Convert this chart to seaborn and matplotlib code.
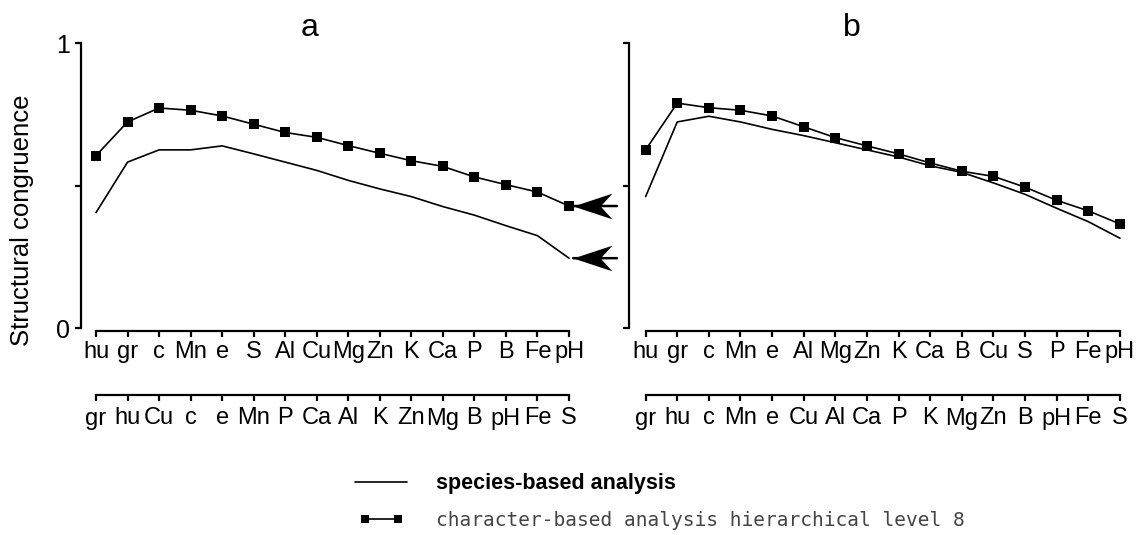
import numpy as np
import pandas as pd
import matplotlib
matplotlib.use("Agg")
import matplotlib.pyplot as plt
import seaborn as sns
from matplotlib import font_manager
from matplotlib.path import Path
from matplotlib.legend_handler import HandlerLine2D

# ---------------- data ----------------
a_top_labels = ["hu", "gr", "c", "Mn", "e", "S", "Al", "Cu", "Mg", "Zn", "K", "Ca", "P", "B", "Fe", "pH"]
a_bot_labels = ["gr", "hu", "Cu", "c", "e", "Mn", "P", "Ca", "Al", "K", "Zn", "Mg", "B", "pH", "Fe", "S"]
b_top_labels = ["hu", "gr", "c", "Mn", "e", "Al", "Mg", "Zn", "K", "Ca", "B", "Cu", "S", "P", "Fe", "pH"]
b_bot_labels = ["gr", "hu", "c", "Mn", "e", "Cu", "Al", "Ca", "P", "K", "Mg", "Zn", "B", "pH", "Fe", "S"]

a_character = [0.605, 0.723, 0.772, 0.764, 0.744, 0.715, 0.686, 0.669, 0.640, 0.613,
               0.587, 0.567, 0.530, 0.503, 0.477, 0.428]
a_species = [0.405, 0.582, 0.625, 0.625, 0.639, 0.611, 0.582, 0.553, 0.518, 0.488,
             0.461, 0.426, 0.396, 0.359, 0.324, 0.245]
b_character = [0.625, 0.789, 0.773, 0.764, 0.744, 0.706, 0.668, 0.639, 0.611, 0.579,
               0.550, 0.532, 0.494, 0.448, 0.411, 0.365]
b_species = [0.461, 0.723, 0.743, 0.723, 0.697, 0.675, 0.650, 0.625, 0.600, 0.569,
             0.546, 0.509, 0.469, 0.420, 0.373, 0.315]

y_ticks = [0, 0.5, 1]
y_ticklabels = ["0", "", "1"]
panel_titles = ["a", "b"]
series_names = ["species-based analysis", "character-based analysis hierarchical level 8"]

# ---------------- style ----------------
sns.set_theme(style="white")
names = {f.name for f in font_manager.fontManager.ttflist}
narrow = "Liberation Sans Narrow" if "Liberation Sans Narrow" in names else "Liberation Sans"
plt.rcParams["font.family"] = ["Liberation Sans", "DejaVu Sans"]
plt.rcParams["text.color"] = "black"
plt.rcParams["xtick.color"] = "black"
plt.rcParams["ytick.color"] = "black"
plt.rcParams["axes.labelcolor"] = "black"

W, H = 1148, 535
fig = plt.figure(figsize=(W / 100, H / 100), dpi=100)


def px_axes(left, right, bottom_px, top_px):
    return fig.add_axes([left / W, (H - bottom_px) / H, (right - left) / W, (bottom_px - top_px) / H])


ax_a = px_axes(81, 575, 328, 43)
ax_b = px_axes(629, 1126, 328, 43)

panels = [
    (ax_a, a_top_labels, a_bot_labels, a_species, a_character, (-0.476, 15.19)),
    (ax_b, b_top_labels, b_bot_labels, b_species, b_character, (-0.525, 15.19)),
]

lw = 1.2
for i, (ax, top_lab, bot_lab, sp, ch, xl) in enumerate(panels):
    x = np.arange(len(top_lab))
    df = pd.DataFrame({"pos": np.concatenate([x, x]),
                       "value": sp + ch,
                       "series": [series_names[0]] * len(x) + [series_names[1]] * len(x)})
    sns.lineplot(data=df[df.series == series_names[0]], x="pos", y="value", ax=ax,
                 color="black", lw=lw, legend=False)
    sns.lineplot(data=df[df.series == series_names[1]], x="pos", y="value", ax=ax,
                 color="black", lw=lw, marker="s", markersize=7.5, markeredgewidth=0,
                 legend=False)
    ax.set_xlim(*xl)
    ax.set_ylim(0, 1)
    ax.set_xlabel("")
    ax.set_ylabel("")
    for s in ["top", "right"]:
        ax.spines[s].set_visible(False)
    for s in ["left", "bottom"]:
        ax.spines[s].set_linewidth(1.6)
        ax.spines[s].set_color("black")
    ax.spines["left"].set_bounds(0, 1)
    ax.spines["bottom"].set_bounds(0, len(x) - 1)
    ax.spines["bottom"].set_position(("outward", 2.2))
    ax.set_yticks(y_ticks)
    ax.set_yticklabels(y_ticklabels if i == 0 else ["", "", ""])
    ax.set_xticks(x)
    ax.set_xticklabels(top_lab)
    ax.tick_params(axis="both", which="both", direction="out", length=4, width=1.6,
                   color="black", left=True, bottom=True)
    ax.tick_params(axis="x", labelsize=17, pad=3.5)
    ax.tick_params(axis="y", labelsize=18, pad=4)
    for t in ax.get_xticklabels():
        t.set_fontfamily([narrow, "DejaVu Sans"])
    ax.patch.set_alpha(0)

    sec = ax.secondary_xaxis(-67 / 285)
    sec.set_xticks(x)
    sec.set_xticklabels(bot_lab)
    sec.spines["bottom"].set_bounds(0, len(x) - 1)
    sec.spines["bottom"].set_linewidth(1.6)
    sec.spines["bottom"].set_color("black")
    sec.tick_params(axis="x", direction="out", length=4, width=1.6, labelsize=17, pad=5,
                    color="black")
    for t in sec.get_xticklabels():
        t.set_fontfamily([narrow, "DejaVu Sans"])

# arrows in panel a pointing to the line ends (stealth heads + shaft)
stealth = Path([(0, 0), (1, 0.33), (0.7, 0), (1, -0.33), (0, 0)],
               [Path.MOVETO, Path.LINETO, Path.LINETO, Path.LINETO, Path.CLOSEPOLY])
tip_x = 15.13
for val in (a_character[-1], a_species[-1]):
    ax_a.annotate("", xy=(tip_x, val), xytext=(16.52, val), annotation_clip=False,
                  arrowprops=dict(arrowstyle="-", color="black", lw=1.8,
                                  shrinkA=0, shrinkB=0))
    ax_a.plot([tip_x], [val], marker=stealth, markersize=56, color="black",
              markeredgewidth=0, clip_on=False)

# titles
fig.text(310 / W, 1 - 28 / H, panel_titles[0], fontsize=23, ha="center", va="center")
fig.text(852 / W, 1 - 28 / H, panel_titles[1], fontsize=23, ha="center", va="center")

# y label
fig.text(22 / W, 1 - 220 / H, "Structural congruence", rotation=90, ha="center",
         va="center", fontsize=18.5)

# legend
h_sp = ax_a.get_lines()[0]
h_ch = ax_a.get_lines()[1]
leg = fig.legend([h_sp, h_ch], series_names, loc="upper left",
                 bbox_to_anchor=(349 / W, 1 - 473 / H), frameon=False, numpoints=2,
                 handlelength=3.3, handletextpad=1.2, labelspacing=0.85, borderpad=0,
                 borderaxespad=0, fontsize=14,
                 handler_map={h_ch: HandlerLine2D(numpoints=2, marker_pad=0.8)})
for lh in leg.legend_handles:
    lh.set_markersize(5.5)
texts = leg.get_texts()
texts[0].set_fontweight("bold")
texts[0].set_fontsize(15.5)
texts[1].set_fontfamily(["DejaVu Sans Mono"])
texts[1].set_color("#444444")
texts[1].set_fontsize(14)

fig.savefig("out.png", dpi=100)
